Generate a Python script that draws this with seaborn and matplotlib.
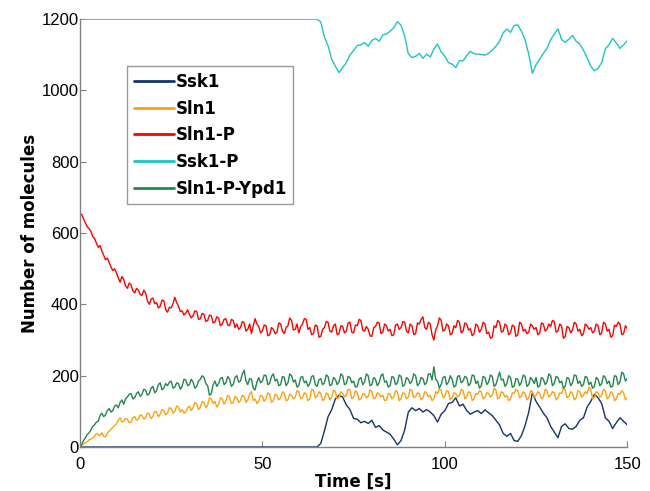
import numpy as np
import pandas as pd
import matplotlib
matplotlib.use("Agg")
import matplotlib.pyplot as plt
import seaborn as sns

# time axes: 1 s grid for Ssk1 / Ssk1-P, 0.5 s grid for the noisier traces
time_coarse = [i for i in range(0, 151)]
time_fine = [i / 2 for i in range(0, 301)]

ssk1 = [0] * 66 + [
    10, 45, 85, 105, 135, 145, 140, 118, 105, 80,
    78, 68, 72, 66, 75, 55, 60, 48, 42, 36,
    22, 6, 18, 48, 98, 110, 102, 108, 98, 105,
    98, 88, 70, 92, 102, 122, 125, 138, 115, 120,
    102, 92, 98, 102, 94, 104, 96, 88, 75, 62,
    38, 30, 38, 18, 16, 32, 60, 98, 152, 128,
    112, 95, 82, 58, 42, 26, 58, 65, 52, 50,
    58, 75, 82, 112, 128, 148, 138, 122, 82, 72,
    52, 68, 82, 72, 62]

ssk1_p = [1200] * 66 + [
    1192, 1150, 1125, 1088, 1068, 1050, 1064, 1078, 1100, 1112,
    1126, 1128, 1134, 1124, 1140, 1146, 1138, 1156, 1158, 1166,
    1176, 1193, 1183, 1152, 1103, 1092, 1096, 1104, 1090, 1102,
    1094, 1116, 1130, 1108, 1096, 1078, 1074, 1064, 1084, 1083,
    1098, 1110, 1103, 1102, 1101, 1099, 1104, 1113, 1124, 1138,
    1162, 1172, 1163, 1182, 1184, 1166, 1142, 1102, 1048, 1072,
    1088, 1104, 1118, 1142, 1158, 1173, 1143, 1135, 1144, 1154,
    1138, 1130, 1113, 1092, 1068, 1055, 1062, 1078, 1117, 1128,
    1146, 1133, 1118, 1128, 1140]

sln1_p = [
    655, 652, 640, 628, 618, 612, 605, 590, 585, 572,
    560, 565, 550, 538, 525, 530, 518, 505, 495, 500,
    488, 475, 462, 478, 470, 452, 445, 460, 455, 438,
    432, 445, 440, 428, 425, 440, 432, 410, 400, 415,
    418, 402, 405, 390, 395, 412, 410, 385, 378, 392,
    390, 402, 420, 405, 395, 380, 382, 370, 375, 385,
    372, 362, 368, 382, 380, 358, 360, 375, 372, 352,
    355, 370, 368, 348, 350, 365, 362, 340, 345, 358,
    360, 342, 340, 358, 355, 335, 345, 330, 335, 352,
    348, 325, 330, 345, 318, 340, 360, 345, 338, 320,
    325, 342, 340, 312, 315, 335, 330, 318, 322, 348,
    345, 325, 318, 335, 340, 362, 355, 328, 330, 345,
    320, 338, 345, 360, 358, 330, 335, 315, 318, 342,
    340, 308, 310, 330, 335, 352, 350, 325, 322, 340,
    345, 315, 318, 340, 338, 320, 325, 348, 350, 322,
    320, 342, 340, 358, 355, 328, 325, 338, 330, 312,
    310, 335, 338, 350, 348, 318, 322, 345, 340, 325,
    330, 312, 315, 342, 345, 330, 335, 352, 350, 325,
    320, 345, 340, 315, 318, 348, 345, 358, 365, 335,
    330, 350, 345, 315, 300, 328, 340, 362, 355, 325,
    328, 345, 340, 315, 318, 340, 335, 355, 350, 320,
    325, 348, 345, 328, 332, 312, 318, 345, 340, 322,
    330, 350, 345, 318, 322, 305, 308, 340, 335, 355,
    350, 322, 325, 345, 340, 315, 320, 342, 338, 310,
    315, 350, 345, 325, 330, 318, 322, 345, 340, 330,
    335, 315, 320, 348, 345, 325, 330, 345, 338, 355,
    352, 322, 325, 345, 340, 305, 310, 338, 335, 320,
    328, 350, 345, 325, 330, 312, 318, 345, 340, 330,
    335, 320, 325, 345, 340, 315, 320, 350, 345, 325,
    330, 308, 312, 342, 338, 350, 345, 315, 318, 340,
    332]

sln1_p_ypd1 = [
    0, 8, 18, 26, 35, 40, 48, 58, 62, 70,
    72, 88, 95, 85, 90, 102, 108, 98, 102, 115,
    118, 110, 125, 132, 120, 135, 140, 148, 150, 135,
    138, 150, 155, 142, 148, 162, 160, 145, 150, 165,
    170, 152, 158, 175, 180, 160, 165, 178, 172, 182,
    185, 165, 168, 180, 178, 162, 170, 190, 188, 172,
    175, 190, 182, 165, 170, 185, 190, 200, 195, 178,
    172, 145, 150, 175, 185, 170, 178, 192, 195, 175,
    180, 198, 190, 170, 175, 195, 200, 182, 185, 205,
    215, 185, 175, 192, 190, 165, 160, 182, 195, 180,
    185, 202, 200, 175, 178, 198, 205, 185, 190, 172,
    175, 198, 195, 172, 180, 205, 200, 182, 188, 168,
    172, 195, 198, 180, 185, 170, 178, 198, 200, 175,
    170, 188, 192, 175, 180, 202, 198, 172, 175, 195,
    190, 175, 182, 205, 200, 175, 178, 198, 195, 180,
    185, 168, 170, 190, 195, 175, 182, 205, 200, 172,
    175, 195, 190, 172, 180, 200, 205, 182, 185, 168,
    172, 198, 195, 175, 180, 202, 198, 170, 175, 195,
    190, 178, 185, 205, 200, 172, 178, 195, 192, 175,
    180, 205, 205, 188, 225, 190, 185, 165, 175, 195,
    198, 175, 182, 200, 190, 168, 172, 198, 200, 180,
    185, 198, 195, 172, 178, 202, 200, 178, 185, 165,
    172, 198, 195, 175, 182, 202, 198, 170, 175, 192,
    210, 188, 190, 170, 178, 200, 195, 168, 170, 192,
    190, 172, 182, 202, 198, 170, 175, 195, 188, 178,
    195, 168, 172, 195, 190, 175, 182, 205, 200, 172,
    178, 198, 195, 180, 185, 165, 170, 195, 192, 172,
    180, 202, 200, 178, 185, 170, 175, 198, 195, 175,
    182, 165, 170, 195, 190, 172, 178, 200, 195, 178,
    185, 168, 170, 200, 198, 175, 182, 210, 205, 185,
    192]

sln1 = [
    0, 5, 8, 12, 15, 20, 22, 26, 30, 38,
    35, 32, 40, 30, 28, 38, 45, 50, 55, 60,
    65, 75, 82, 70, 72, 80, 78, 68, 70, 82,
    85, 75, 78, 90, 88, 78, 82, 95, 92, 80,
    86, 100, 98, 85, 92, 105, 102, 90, 95, 110,
    108, 95, 100, 115, 112, 98, 105, 95, 98, 110,
    115, 102, 110, 125, 120, 105, 112, 128, 125, 110,
    118, 138, 135, 122, 128, 112, 120, 138, 135, 120,
    128, 145, 140, 122, 125, 142, 138, 125, 130, 145,
    142, 125, 132, 148, 155, 130, 135, 122, 128, 145,
    142, 128, 135, 152, 148, 125, 130, 148, 145, 132,
    138, 155, 150, 130, 132, 148, 145, 135, 140, 158,
    155, 135, 138, 152, 148, 130, 135, 162, 160, 138,
    142, 155, 150, 130, 135, 152, 148, 132, 140, 160,
    155, 135, 138, 155, 150, 140, 145, 162, 160, 135,
    140, 158, 152, 132, 135, 150, 148, 138, 142, 160,
    155, 135, 138, 152, 150, 140, 145, 130, 132, 150,
    148, 135, 140, 158, 155, 130, 135, 152, 150, 135,
    140, 162, 158, 138, 142, 152, 150, 132, 138, 155,
    152, 140, 145, 130, 135, 155, 150, 162, 160, 138,
    142, 158, 155, 132, 138, 152, 150, 140, 145, 162,
    158, 135, 140, 155, 152, 130, 135, 150, 148, 158,
    155, 135, 140, 152, 150, 140, 145, 165, 160, 135,
    138, 155, 152, 140, 145, 130, 135, 152, 150, 162,
    158, 138, 142, 155, 150, 132, 138, 158, 155, 140,
    145, 155, 150, 135, 140, 162, 158, 140, 145, 155,
    152, 132, 138, 152, 150, 165, 160, 138, 142, 155,
    150, 132, 138, 158, 155, 140, 145, 155, 150, 168,
    162, 135, 140, 155, 152, 140, 145, 162, 158, 135,
    140, 155, 150, 130, 135, 150, 148, 158, 152, 132,
    138]

species = ["Ssk1", "Sln1", "Sln1-P", "Ssk1-P", "Sln1-P-Ypd1"]
colors = ["#14336e", "#ffa010", "#ff0000", "#1fc4c4", "#23864f"]
series = [ssk1, sln1, sln1_p, ssk1_p, sln1_p_ypd1]
times = [time_coarse, time_fine, time_fine, time_coarse, time_fine]

frames = []
for name, t, vals in zip(species, times, series):
    frames.append(pd.DataFrame({"Time": t, "Count": vals, "Species": name}))
df = pd.concat(frames, ignore_index=True)

sns.set_style("ticks")
plt.rcParams['font.family'] = ['DejaVu Sans']
plt.rcParams['text.color'] = 'black'
plt.rcParams['axes.labelcolor'] = 'black'

fig = plt.figure(figsize=(6.5, 4.91), dpi=100)
ax = fig.add_axes([0.123, 0.0896, 0.842, 0.8714])

sns.lineplot(data=df, x="Time", y="Count", hue="Species", hue_order=species,
             palette=dict(zip(species, colors)), linewidth=1.0, ax=ax,
             estimator=None, legend=False)

ax.set_xlim(0, 150)
ax.set_ylim(0, 1200)
ax.set_xticks([0, 50, 100, 150])
ax.set_yticks([0, 200, 400, 600, 800, 1000, 1200])
for lab in ax.get_xticklabels() + ax.get_yticklabels():
    lab.set_fontfamily('Liberation Sans')
    lab.set_fontsize(12)
ax.tick_params(direction='in', length=4, width=0.8, color='#808080', labelcolor='black')
ax.tick_params(axis='x', pad=7)
ax.tick_params(axis='y', pad=1)
for s in ['top', 'right']:
    ax.spines[s].set_visible(False)
for s in ['left', 'bottom']:
    ax.spines[s].set_color('#808080')
    ax.spines[s].set_linewidth(1.0)

ax.set_xlabel("Time [s]", fontsize=12, fontweight='bold', labelpad=1, color='black')
ax.set_ylabel("Number of molecules", fontsize=12, fontweight='bold', labelpad=2, color='black')

handles = [plt.Line2D([], [], color=c, lw=2) for c in colors]
leg = ax.legend(handles, species, loc='upper left', bbox_to_anchor=(0.086, 0.89),
                prop={'weight': 'bold', 'size': 12}, frameon=True, fancybox=False,
                edgecolor='#808080', handlelength=2.4, handletextpad=0.1,
                borderpad=0.4, labelspacing=0.52, borderaxespad=0)
leg.get_frame().set_linewidth(1.0)
for txt in leg.get_texts():
    txt.set_color('black')

fig.savefig("out.png", dpi=100)
